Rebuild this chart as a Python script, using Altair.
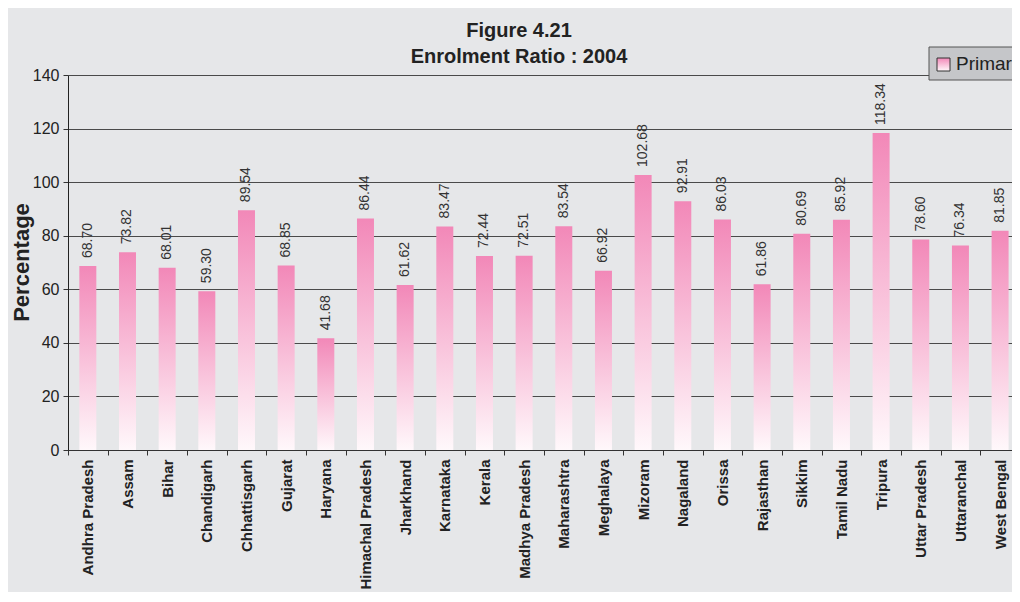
import altair as alt
import pandas as pd

states = ["Andhra Pradesh", "Assam", "Bihar", "Chandigarh", "Chhattisgarh", "Gujarat",
          "Haryana", "Himachal Pradesh", "Jharkhand", "Karnataka", "Kerala",
          "Madhya Pradesh", "Maharashtra", "Meghalaya", "Mizoram", "Nagaland",
          "Orissa", "Rajasthan", "Sikkim", "Tamil Nadu", "Tripura", "Uttar Pradesh",
          "Uttaranchal", "West Bengal"]
primary = [68.70, 73.82, 68.01, 59.30, 89.54, 68.85, 41.68, 86.44, 61.62, 83.47, 72.44,
           72.51, 83.54, 66.92, 102.68, 92.91, 86.03, 61.86, 80.69, 85.92, 118.34,
           78.60, 76.34, 81.85]
y_ticks = [0, 20, 40, 60, 80, 100, 120, 140]

df = pd.DataFrame({"State": states, "Primary": primary,
                   "pos": [i + 0.5 for i in range(len(states))]})

FONT = "Liberation Sans"
BG = "#e6e7e9"
grad = alt.Gradient(
    gradient="linear",
    stops=[alt.GradientStop(color="#fff8fb", offset=0),
           alt.GradientStop(color="#f288b8", offset=1)],
    x1=1, x2=1, y1=1, y2=0,
)

names_js = "[" + ",".join("'" + s + "'" for s in states) + "]"

x_enc = alt.X(
    "pos:Q", title=None,
    scale=alt.Scale(domain=[0, 23.8], nice=False, zero=False, padding=0),
    axis=alt.Axis(values=list(df["pos"]),
                  labelExpr=names_js + "[floor(datum.value)]",
                  labelAngle=270, labelAlign="right", labelBaseline="middle",
                  labelFont=FONT, labelFontSize=15, labelFontWeight="bold",
                  labelColor="#222222", labelPadding=4, labelLimit=300,
                  labelOverlap=False, labelFlush=False, labelBound=False,
                  tickOffset=-19.8, labelOffset=19.8, tickSize=5, tickColor="#333333",
                  domainColor="#333333", grid=False),
)
y_enc = alt.Y(
    "Primary:Q",
    scale=alt.Scale(domain=[0, 140], nice=False, padding=0),
    axis=alt.Axis(values=y_ticks, title="Percentage", titleFont=FONT, titleFontSize=22,
                  titleFontWeight="bold", titleColor="#222222", titleAngle=270,
                  titleX=-40, titleY=187, titleAlign="center", titleBaseline="alphabetic",
                  labelFont=FONT, labelFontSize=16, labelColor="#222222", labelPadding=4,
                  tickSize=5, tickColor="#333333", domainColor="#222222",
                  grid=True, gridColor="#4a4a4a", gridWidth=1),
)

bars = alt.Chart(df).mark_bar(size=17, color=grad, clip=True).encode(x=x_enc, y=y_enc)

labels = alt.Chart(df).mark_text(
    angle=270, align="left", baseline="middle", font=FONT, fontSize=14,
    color="#333333", yOffset=-8,
).encode(x=x_enc, y=y_enc, text=alt.Text("Primary:Q", format=".2f"))

legend_df = pd.DataFrame({"label": ["Primary"]})
legend_box = alt.Chart(legend_df).mark_rect(
    fill="#c5c6c9", stroke="#555555", strokeWidth=1
).encode(x=alt.value(861), x2=alt.value(990), y=alt.value(-28), y2=alt.value(5))
legend_swatch = alt.Chart(legend_df).mark_rect(
    fill=grad, stroke="#333333", strokeWidth=1
).encode(x=alt.value(869), x2=alt.value(882), y=alt.value(-17), y2=alt.value(-4))
legend_text = alt.Chart(legend_df).mark_text(
    align="left", baseline="middle", font=FONT, fontSize=19, color="#222222"
).encode(x=alt.value(888), y=alt.value(-11), text="label:N")

chart = alt.layer(bars, labels, legend_box, legend_swatch, legend_text).properties(
    width=944, height=375,
    title=alt.TitleParams(["Figure 4.21", "Enrolment Ratio : 2004"], font=FONT,
                          fontSize=20, fontWeight="bold", color="#222222",
                          lineHeight=26, anchor="middle", dx=-21, dy=30, offset=10),
    autosize=alt.AutoSizeParams(type="none"),
    padding={"left": 60, "top": 67, "right": 0, "bottom": 142},
    background=BG,
).configure_view(fill=BG, stroke=None)

chart.save("out.html", embed_options={"renderer": "svg", "actions": False})
